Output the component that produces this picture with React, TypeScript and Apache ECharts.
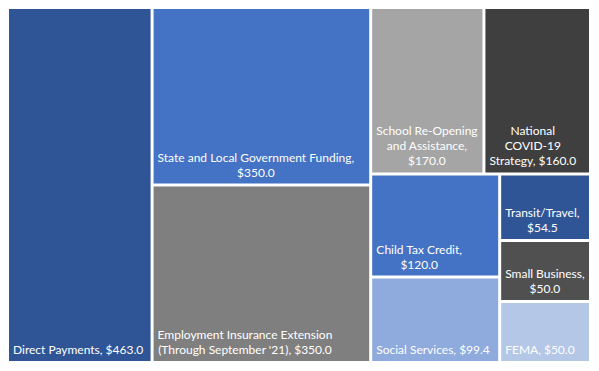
import React, { useEffect, useRef } from 'react';
import * as echarts from 'echarts';

const categories = [
  'Direct Payments',
  'State and Local Government Funding',
  "Employment Insurance Extension (Through September '21)",
  'School Re-Opening and Assistance',
  'National COVID-19 Strategy',
  'Child Tax Credit',
  'Transit/Travel',
  'Small Business',
  'Social Services',
  'FEMA',
];
const values = [463.0, 350.0, 350.0, 170.0, 160.0, 120.0, 54.5, 50.0, 99.4, 50.0];
// label text, with the line breaks of the reference; {v} is replaced by the value
const labelTemplates = [
  'Direct Payments, {v}',
  'State and Local Government Funding,\n{v}',
  "Employment Insurance Extension\n(Through September '21), {v}",
  'School Re-Opening\nand Assistance,\n{v}',
  'National\nCOVID-19\nStrategy, {v}',
  'Child Tax Credit,\n{v}',
  'Transit/Travel,\n{v}',
  'Small Business,\n{v}',
  'Social Services, {v}',
  'FEMA, {v}',
];
const colors = [
  '#2F5597', '#4472C4', '#7F7F7F', '#A5A5A5', '#3F3F3F',
  '#4472C4', '#2F5597', '#505050', '#8FAADC', '#B4C7E7',
];
// nesting of the tiles (category indices) that reproduces the reference arrangement
const tileGroups: any[] = [0, [1, 2], [[3, 4], [[5, 8], [6, 7, 9]]]];

const FONT_SIZE = 12;
const FONT_FAMILY = 'Lato';
const LINE_HEIGHT = 15;
const PAD_X = 4;
const PAD_BOTTOM = 4;

let ctx: CanvasRenderingContext2D | null = null;
function measure(text: string): number {
  if (!ctx) {
    ctx = document.createElement('canvas').getContext('2d');
  }
  if (!ctx) return text.length * FONT_SIZE * 0.5;
  ctx.font = `${FONT_SIZE}px ${FONT_FAMILY}`;
  return ctx.measureText(text).width;
}

function sumOf(spec: any): number {
  if (typeof spec === 'number') return values[spec];
  return spec.reduce((s: number, c: any) => s + sumOf(c), 0);
}

function buildNode(spec: any): any {
  if (typeof spec === 'number') {
    const text = labelTemplates[spec].replace('{v}', '$' + values[spec].toFixed(1));
    const lines = text.split('\n');
    const blockW = Math.max(...lines.map(measure));
    return {
      name: categories[spec],
      value: values[spec],
      itemStyle: { color: colors[spec] },
      label: {
        formatter: text,
        position: [PAD_X + blockW / 2, '100%'],
        align: 'center',
        verticalAlign: 'bottom',
        offset: [0, -PAD_BOTTOM],
      },
    };
  }
  return {
    name: '',
    value: sumOf(spec),
    children: spec.map(buildNode),
  };
}

export default function App() {
  const ref = useRef<HTMLDivElement>(null);
  useEffect(() => {
    if (!ref.current) return;
    const chart = echarts.init(ref.current, null, { renderer: 'svg' });
    chart.setOption({
      animation: false,
      backgroundColor: '#ffffff',
      series: [
        {
          type: 'treemap',
          left: 9,
          top: 9,
          width: 580,
          height: 352,
          roam: false,
          nodeClick: false,
          sort: false,
          squareRatio: 1,
          breadcrumb: { show: false },
          itemStyle: { borderWidth: 0, gapWidth: 3, borderColor: '#ffffff' },
          label: {
            show: true,
            color: '#ffffff',
            fontFamily: FONT_FAMILY,
            fontSize: FONT_SIZE,
            lineHeight: LINE_HEIGHT,
            padding: 0,
            overflow: 'none',
          },
          upperLabel: { show: false },
          data: tileGroups.map(buildNode),
        },
      ],
    });
    return () => chart.dispose();
  }, []);
  return <div ref={ref} style={{ width: 599, height: 371, position: 'absolute', left: 0, top: 0 }} />;
}
